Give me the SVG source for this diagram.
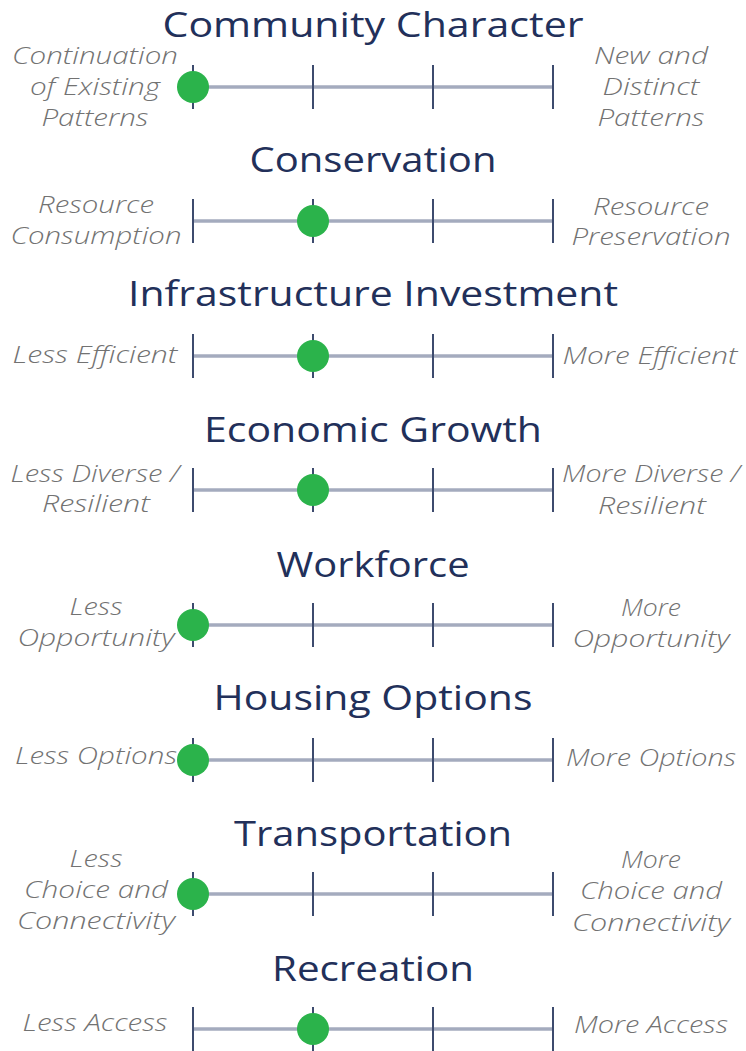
<svg xmlns="http://www.w3.org/2000/svg" width="746" height="1051" viewBox="0 0 746 1051">
<style>
.title{font-family:"Open Sans","Liberation Sans",sans-serif;font-weight:400;font-size:35px;fill:#22305a;text-anchor:middle}
.lbl{font-family:"Open Sans","Liberation Sans",sans-serif;font-style:italic;font-weight:300;font-size:23px;fill:#727272;text-anchor:middle}
.bar{stroke:#a4abbe;stroke-width:3.5;fill:none}
.tick{stroke:#3d4b6e;stroke-width:2;fill:none}
.dot{fill:#2bb34b}
</style>
<defs>
<g id="scale">
<line class="bar" x1="193" y1="0" x2="553" y2="0"/>
<line class="tick" x1="193" y1="-22" x2="193" y2="22"/>
<line class="tick" x1="313" y1="-22" x2="313" y2="22"/>
<line class="tick" x1="433" y1="-22" x2="433" y2="22"/>
<line class="tick" x1="553" y1="-22" x2="553" y2="22"/>
</g>
</defs>
<rect width="746" height="1051" fill="#ffffff"/>

<g id="community-character">
<text class="title" x="373" y="37" textLength="421" lengthAdjust="spacingAndGlyphs">Community Character</text>
<use href="#scale" y="87"/>
<circle class="dot" cx="193" cy="87" r="16"/>
<text class="lbl" x="95" y="64" textLength="166" lengthAdjust="spacingAndGlyphs">Continuation</text>
<text class="lbl" x="95" y="95" textLength="130" lengthAdjust="spacingAndGlyphs">of Existing</text>
<text class="lbl" x="95" y="126" textLength="107" lengthAdjust="spacingAndGlyphs">Patterns</text>
<text class="lbl" x="651" y="64" textLength="114" lengthAdjust="spacingAndGlyphs">New and</text>
<text class="lbl" x="651" y="95" textLength="97" lengthAdjust="spacingAndGlyphs">Distinct</text>
<text class="lbl" x="651" y="126" textLength="107" lengthAdjust="spacingAndGlyphs">Patterns</text>
</g>

<g id="conservation">
<text class="title" x="373" y="172" textLength="247" lengthAdjust="spacingAndGlyphs">Conservation</text>
<use href="#scale" y="221"/>
<circle class="dot" cx="313" cy="221" r="16"/>
<text class="lbl" x="96" y="213" textLength="116" lengthAdjust="spacingAndGlyphs">Resource</text>
<text class="lbl" x="96" y="244" textLength="171" lengthAdjust="spacingAndGlyphs">Consumption</text>
<text class="lbl" x="651" y="215" textLength="116" lengthAdjust="spacingAndGlyphs">Resource</text>
<text class="lbl" x="651" y="245" textLength="159" lengthAdjust="spacingAndGlyphs">Preservation</text>
</g>

<g id="infrastructure-investment">
<text class="title" x="373" y="306" textLength="490" lengthAdjust="spacingAndGlyphs">Infrastructure Investment</text>
<use href="#scale" y="356"/>
<circle class="dot" cx="313" cy="356" r="16"/>
<text class="lbl" x="95" y="363" textLength="165" lengthAdjust="spacingAndGlyphs">Less Efficient</text>
<text class="lbl" x="650" y="364" textLength="175" lengthAdjust="spacingAndGlyphs">More Efficient</text>
</g>

<g id="economic-growth">
<text class="title" x="373" y="442" textLength="338" lengthAdjust="spacingAndGlyphs">Economic Growth</text>
<use href="#scale" y="490"/>
<circle class="dot" cx="313" cy="490" r="16"/>
<text class="lbl" x="95" y="482" textLength="169" lengthAdjust="spacingAndGlyphs">Less Diverse /</text>
<text class="lbl" x="96" y="512" textLength="108" lengthAdjust="spacingAndGlyphs">Resilient</text>
<text class="lbl" x="651" y="482" textLength="178" lengthAdjust="spacingAndGlyphs">More Diverse /</text>
<text class="lbl" x="652" y="514" textLength="108" lengthAdjust="spacingAndGlyphs">Resilient</text>
</g>

<g id="workforce">
<text class="title" x="373" y="577" textLength="193" lengthAdjust="spacingAndGlyphs">Workforce</text>
<use href="#scale" y="625"/>
<circle class="dot" cx="193" cy="625" r="16"/>
<text class="lbl" x="96" y="615" textLength="53" lengthAdjust="spacingAndGlyphs">Less</text>
<text class="lbl" x="96" y="646" textLength="157" lengthAdjust="spacingAndGlyphs">Opportunity</text>
<text class="lbl" x="651" y="616" textLength="60" lengthAdjust="spacingAndGlyphs">More</text>
<text class="lbl" x="651" y="647" textLength="157" lengthAdjust="spacingAndGlyphs">Opportunity</text>
</g>

<g id="housing-options">
<text class="title" x="373" y="710" textLength="319" lengthAdjust="spacingAndGlyphs">Housing Options</text>
<use href="#scale" y="760"/>
<circle class="dot" cx="193" cy="760" r="16"/>
<text class="lbl" x="96" y="764" textLength="162" lengthAdjust="spacingAndGlyphs">Less Options</text>
<text class="lbl" x="651" y="766" textLength="170" lengthAdjust="spacingAndGlyphs">More Options</text>
</g>

<g id="transportation">
<text class="title" x="373" y="846" textLength="278" lengthAdjust="spacingAndGlyphs">Transportation</text>
<use href="#scale" y="894"/>
<circle class="dot" cx="193" cy="894" r="16"/>
<text class="lbl" x="96" y="867" textLength="53" lengthAdjust="spacingAndGlyphs">Less</text>
<text class="lbl" x="96" y="898" textLength="144" lengthAdjust="spacingAndGlyphs">Choice and</text>
<text class="lbl" x="96" y="929" textLength="158" lengthAdjust="spacingAndGlyphs">Connectivity</text>
<text class="lbl" x="651" y="868" textLength="60" lengthAdjust="spacingAndGlyphs">More</text>
<text class="lbl" x="651" y="899" textLength="142" lengthAdjust="spacingAndGlyphs">Choice and</text>
<text class="lbl" x="651" y="931" textLength="158" lengthAdjust="spacingAndGlyphs">Connectivity</text>
</g>

<g id="recreation">
<text class="title" x="373" y="981" textLength="202" lengthAdjust="spacingAndGlyphs">Recreation</text>
<use href="#scale" y="1029"/>
<circle class="dot" cx="313" cy="1029" r="16"/>
<text class="lbl" x="95" y="1031" textLength="145" lengthAdjust="spacingAndGlyphs">Less Access</text>
<text class="lbl" x="651" y="1033" textLength="154" lengthAdjust="spacingAndGlyphs">More Access</text>
</g>
</svg>
